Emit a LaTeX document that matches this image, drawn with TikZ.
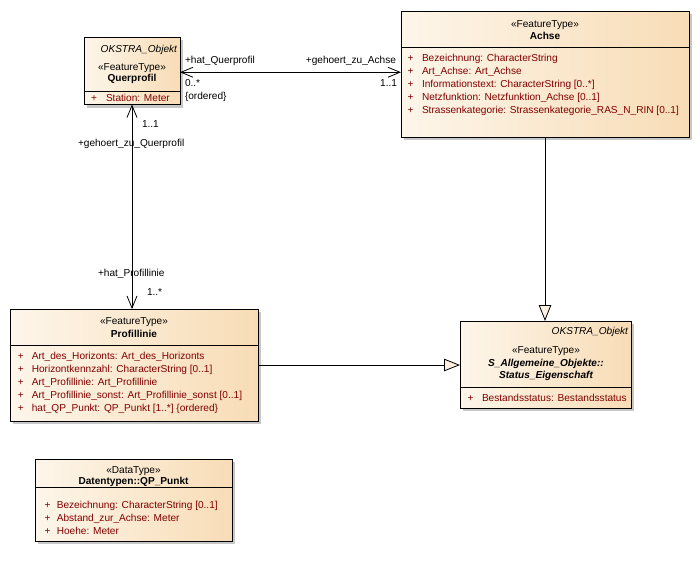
\documentclass[tikz,border=0pt]{standalone}
\usepackage{fontspec}
\setmainfont{Liberation Sans}
\usetikzlibrary{arrows.meta,shadows}
\definecolor{boxl}{RGB}{253,246,234}
\definecolor{boxr}{RGB}{248,220,182}
\definecolor{attr}{RGB}{128,0,0}
\definecolor{genfill}{RGB}{252,240,224}
\newcommand\fsz{\fontsize{10.1}{12}\selectfont}
\begin{document}
\begin{tikzpicture}[x=1pt,y=-1pt,line width=0.8pt,
  classbox/.style={draw=black,line width=0.8pt,left color=boxl,right color=boxr,
    inner sep=0pt,outer sep=0pt,anchor=north west,
    drop shadow={shadow xshift=3pt,shadow yshift=-3pt,fill=black!22,opacity=1}},
  lbl/.style={inner sep=0pt,outer sep=0pt,anchor=base,font=\fsz},
  attrt/.style={lbl,anchor=base west,text=attr},
  clsname/.style={lbl,font=\fsz\bfseries},
  abstname/.style={lbl,font=\fsz\bfseries\itshape},
  ital/.style={lbl,anchor=base east,font=\fsz\itshape},
  rolel/.style={lbl,anchor=base west},
  roler/.style={lbl,anchor=base east},
  assoc/.style={draw,line width=0.8pt,{Straight Barb[length=12pt,width=10pt]}-{Straight Barb[length=12pt,width=10pt]}},
  gen/.style={draw,line width=0.8pt,-{Triangle[length=16pt,width=12.5pt,fill=genfill]}}]
\fill[white] (0,0) rectangle (700,571);
\useasboundingbox (0,0) rectangle (700,571);

% ---------- Querprofil ----------
\node[classbox,minimum width=96pt,minimum height=67.5pt] (querprofil) at (84,37) {};
\draw (84,91) -- (180,91);
\node[ital] (qp-ok) at (177,52.7) {OKSTRA\_Objekt};
\node[lbl] (qp-st) at (132,70.7) {«FeatureType»};
\node[clsname] (qp-nm) at (132,81.7) {Querprofil};
\node[attrt] (qp-p1) at (91,101.8) {+};
\node[attrt] (qp-a1) at (106,101.8) {Station: Meter};

% ---------- Achse ----------
\node[classbox,minimum width=288pt,minimum height=126pt] (achse) at (401,11) {};
\draw (401,47) -- (689,47);
\node[lbl] (ac-st) at (545,27.8) {«FeatureType»};
\node[clsname] (ac-nm) at (545,39.5) {Achse};
\node[attrt] (ac-p1) at (407.5,61.5) {+};
\node[attrt] (ac-a1) at (422,61.5) {Bezeichnung: CharacterString};
\node[attrt] (ac-p2) at (407.5,74.4) {+};
\node[attrt] (ac-a2) at (422,74.4) {Art\_Achse: Art\_Achse};
\node[attrt] (ac-p3) at (407.5,87.3) {+};
\node[attrt] (ac-a3) at (422,87.3) {Informationstext: CharacterString [0..*]};
\node[attrt] (ac-p4) at (407.5,100.2) {+};
\node[attrt] (ac-a4) at (422,100.2) {Netzfunktion: Netzfunktion\_Achse [0..1]};
\node[attrt] (ac-p5) at (407.5,113.1) {+};
\node[attrt] (ac-a5) at (422,113.1) {Strassenkategorie: Strassenkategorie\_RAS\_N\_RIN [0..1]};

% ---------- Profillinie ----------
\node[classbox,minimum width=248pt,minimum height=112pt] (profillinie) at (10,309) {};
\draw (10,345) -- (258,345);
\node[lbl] (pl-st) at (134,324.8) {«FeatureType»};
\node[clsname] (pl-nm) at (134,337) {Profillinie};
\node[attrt] (pl-p1) at (17.8,359.5) {+};
\node[attrt] (pl-a1) at (31.8,359.5) {Art\_des\_Horizonts: Art\_des\_Horizonts};
\node[attrt] (pl-p2) at (17.8,372.5) {+};
\node[attrt] (pl-a2) at (31.8,372.5) {Horizontkennzahl: CharacterString [0..1]};
\node[attrt] (pl-p3) at (17.8,385.5) {+};
\node[attrt] (pl-a3) at (31.8,385.5) {Art\_Profillinie: Art\_Profillinie};
\node[attrt] (pl-p4) at (17.8,398.5) {+};
\node[attrt] (pl-a4) at (31.8,398.5) {Art\_Profillinie\_sonst: Art\_Profillinie\_sonst [0..1]};
\node[attrt] (pl-p5) at (17.8,411.5) {+};
\node[attrt] (pl-a5) at (31.8,411.5) {hat\_QP\_Punkt: QP\_Punkt [1..*] \{ordered\}};

% ---------- Status_Eigenschaft ----------
\node[classbox,minimum width=171pt,minimum height=87pt] (status) at (460,321) {};
\draw (460,387) -- (631,387);
\node[ital] (st-ok) at (628,334.5) {OKSTRA\_Objekt};
\node[lbl] (st-st) at (546,353.8) {«FeatureType»};
\node[abstname] (st-nm1) at (546,366.8) {S\_Allgemeine\_Objekte::};
\node[abstname] (st-nm2) at (546,378.8) {Status\_Eigenschaft};
\node[attrt] (st-p1) at (467.5,401.7) {+};
\node[attrt] (st-a1) at (482,401.7) {Bestandsstatus: Bestandsstatus};

% ---------- QP_Punkt ----------
\node[classbox,minimum width=197pt,minimum height=82pt] (qppunkt) at (35,459) {};
\draw (35,487) -- (232,487);
\node[lbl] (qq-st) at (133.5,473.8) {«DataType»};
\node[clsname] (qq-nm) at (133.5,484.8) {Datentypen::QP\_Punkt};
\node[attrt] (qq-p1) at (44.5,508.8) {+};
\node[attrt] (qq-a1) at (56.8,508.8) {Bezeichnung: CharacterString [0..1]};
\node[attrt] (qq-p2) at (44.5,521.8) {+};
\node[attrt] (qq-a2) at (56.8,521.8) {Abstand\_zur\_Achse: Meter};
\node[attrt] (qq-p3) at (44.5,534.8) {+};
\node[attrt] (qq-a3) at (56.8,534.8) {Hoehe: Meter};

% ---------- connectors ----------
\draw[assoc] ([yshift=-1.5pt]querprofil.east) -- ([yshift=-1.5pt]querprofil.east -| achse.west);
\draw[assoc] (querprofil.south) -- (querprofil.south |- profillinie.north);
\draw[gen] (profillinie.east) -- (profillinie.east -| status.west);
\draw[gen] (achse.south) -- (achse.south |- status.north);

% ---------- role labels ----------
\node[rolel] (r1) at (185,63.7) {+hat\_Querprofil};
\node[roler] (r2) at (396,63.7) {+gehoert\_zu\_Achse};
\node[rolel] (m1) at (185,86.5) {0..*};
\node[rolel] (o1) at (185,99.8) {\{ordered\}};
\node[roler] (m2) at (397,86.5) {1..1};
\node[rolel] (m3) at (142,127) {1..1};
\node[rolel] (r3) at (78,146) {+gehoert\_zu\_Querprofil};
\node[rolel] (r4) at (98,276) {+hat\_Profillinie};
\node[rolel] (m4) at (147,295.3) {1..*};
\end{tikzpicture}
\end{document}
